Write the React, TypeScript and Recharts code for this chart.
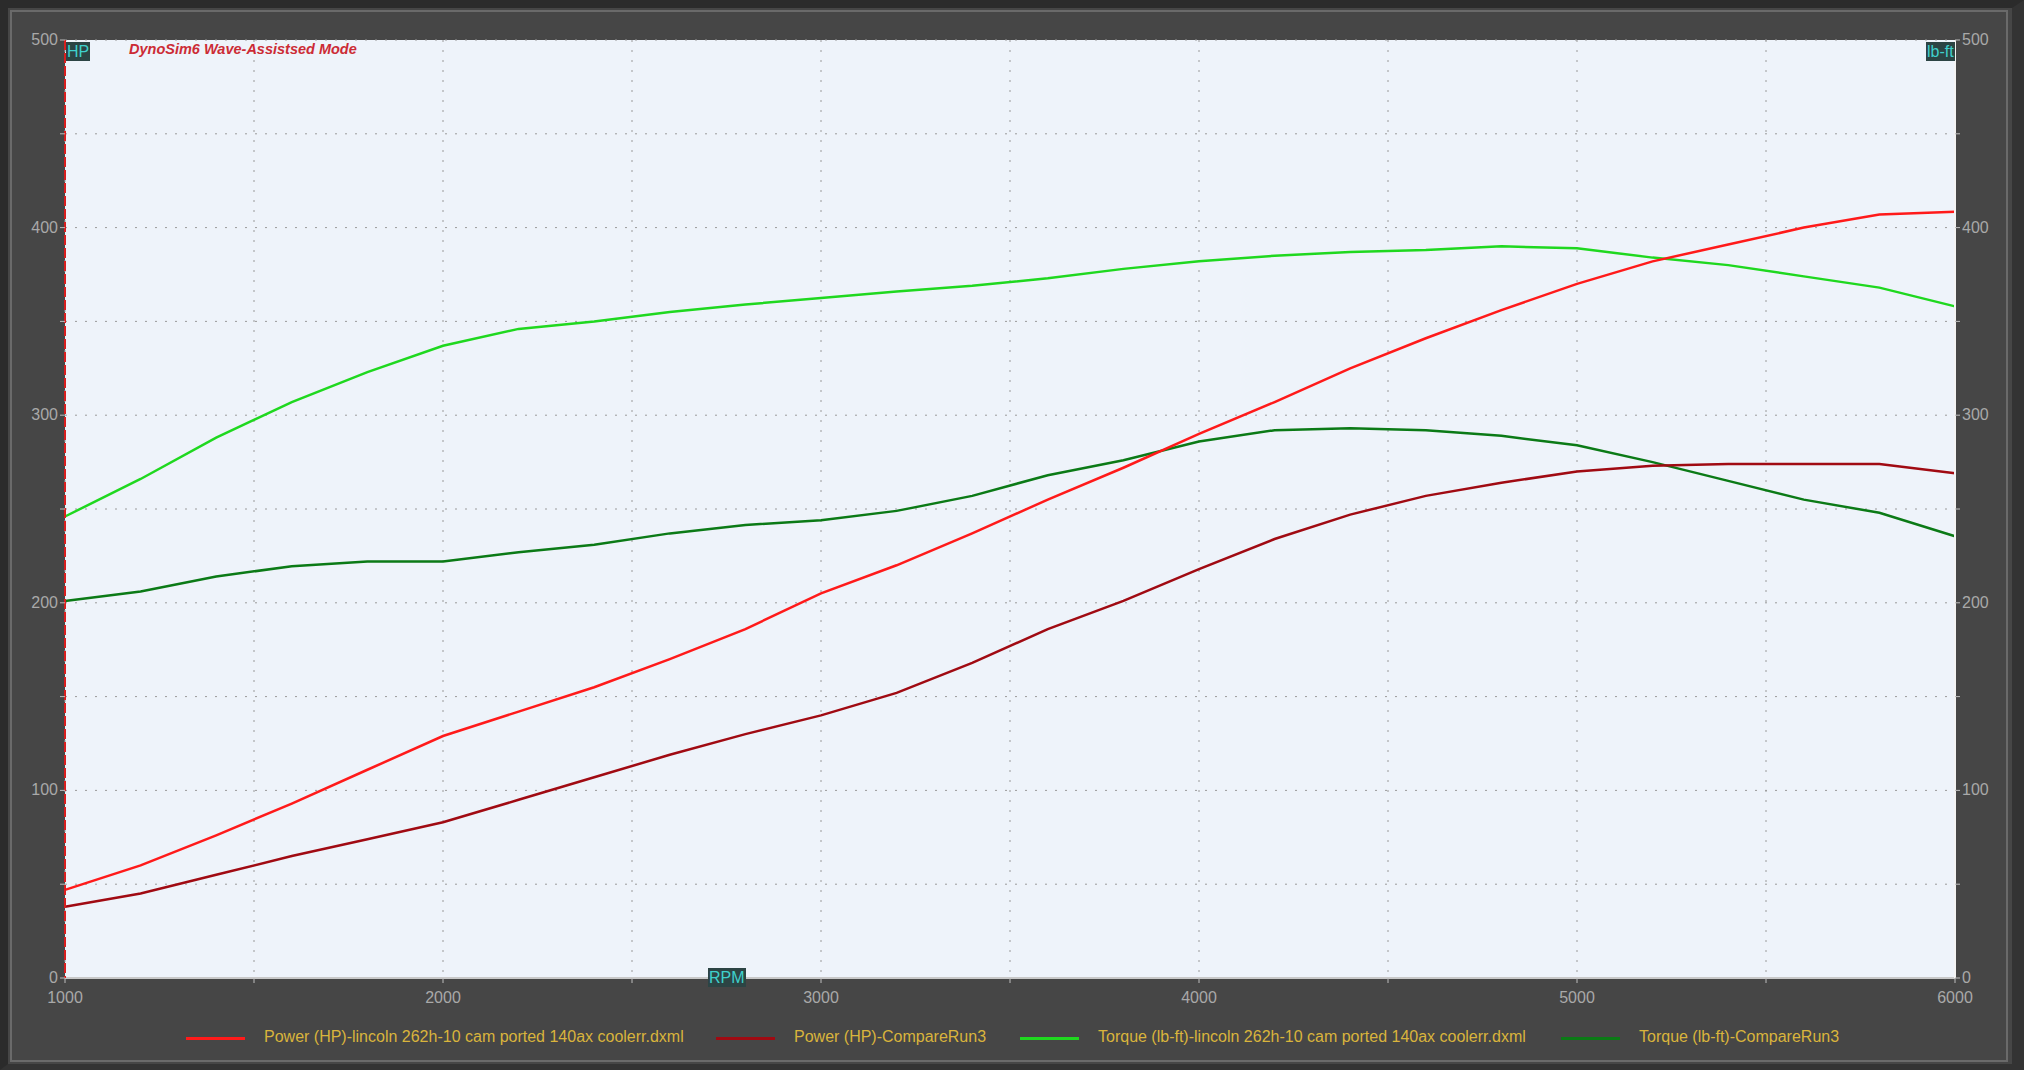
import { LineChart, Line, XAxis, YAxis, CartesianGrid } from 'recharts';

const rpm = [
  1000, 1200, 1400, 1600, 1800, 2000, 2200, 2400, 2600, 2800, 3000, 3200, 3400,
  3600, 3800, 4000, 4200, 4400, 4600, 4800, 5000, 5200, 5400, 5600, 5800, 6000,
];

const powerLincoln = [
  47, 60, 76, 93, 111, 129, 142, 155, 170, 186, 205, 220, 237,
  255, 272, 290, 307, 325, 341, 356, 370, 382, 391, 400, 407, 408.5,
];

const powerCompare = [
  38, 45, 55, 65, 74, 83, 95, 107, 119, 130, 140, 152, 168,
  186, 201, 218, 234, 247, 257, 264, 270, 273, 274, 274, 274, 269,
];

const torqueLincoln = [
  246, 266, 288, 307, 323, 337, 346, 350, 355, 359, 362.5, 366, 369,
  373, 378, 382, 385, 387, 388, 390, 389, 384, 380, 374, 368, 358,
];

const torqueCompare = [
  201, 206, 214, 219.5, 222, 222, 227, 231, 237, 241.5, 244, 249, 257,
  268, 276, 286, 292, 293, 292, 289, 284, 275, 265, 255, 248, 235.5,
];

const rpmTicks = [1000, 1500, 2000, 2500, 3000, 3500, 4000, 4500, 5000, 5500, 6000];
const valueTicks = [0, 50, 100, 150, 200, 250, 300, 350, 400, 450, 500];

const legendItems = [
  { name: 'Power (HP)-lincoln 262h-10 cam ported 140ax coolerr.dxml', color: '#ff1a1a' },
  { name: 'Power (HP)-CompareRun3', color: '#a00a12' },
  { name: 'Torque (lb-ft)-lincoln 262h-10 cam ported 140ax coolerr.dxml', color: '#1fd81f' },
  { name: 'Torque (lb-ft)-CompareRun3', color: '#0b7a16' },
];

const data = rpm.map((r, i) => ({
  rpm: r,
  p1: powerLincoln[i],
  p2: powerCompare[i],
  t1: torqueLincoln[i],
  t2: torqueCompare[i],
}));

const FONT = "'Liberation Sans Narrow', 'Arial Narrow', 'Liberation Sans', sans-serif";
const TICK_COLOR = '#a9a9a9';

const LeftTick = ({ x, y, payload }: any) =>
  payload.value % 100 === 0 ? (
    <text x={x} y={y} dy={5} textAnchor="end" fill={TICK_COLOR} fontSize={16} fontFamily={FONT}>
      {payload.value}
    </text>
  ) : (
    <g />
  );

const RightTick = ({ x, y, payload }: any) =>
  payload.value % 100 === 0 ? (
    <text x={x} y={y} dy={5} textAnchor="start" fill={TICK_COLOR} fontSize={16} fontFamily={FONT}>
      {payload.value}
    </text>
  ) : (
    <g />
  );

const BottomTick = ({ x, y, payload }: any) =>
  payload.value % 1000 === 0 ? (
    <text x={x} y={y} dy={18} textAnchor="middle" fill={TICK_COLOR} fontSize={16} fontFamily={FONT}>
      {payload.value}
    </text>
  ) : (
    <g />
  );

const tag = (left: number, top: number, text: string) => (
  <div
    style={{
      position: 'absolute',
      left,
      top,
      background: '#2c4444',
      color: '#3fd0cc',
      fontFamily: FONT,
      fontSize: 16,
      lineHeight: '19px',
      padding: '0 1px',
    }}
  >
    {text}
  </div>
);

export default function App() {
  return (
    <div
      style={{
        position: 'absolute',
        left: 0,
        top: 0,
        width: 2024,
        height: 1070,
        background: '#464646',
        overflow: 'hidden',
      }}
    >
      {/* window frame */}
      <div style={{ position: 'absolute', left: 0, top: 0, width: 2024, height: 1070, boxSizing: 'border-box', borderTop: '8px solid #2b2b2b', borderLeft: '8px solid #2b2b2b', borderRight: '12px solid #333', borderBottom: '6px solid #333' }} />
      <div style={{ position: 'absolute', left: 10, top: 10, width: 1998, height: 1052, boxSizing: 'border-box', border: '2px solid #6a6a6a' }} />

      <div style={{ position: 'absolute', left: 0, top: 0 }}>
        <LineChart width={2024} height={1070} data={data} margin={{ top: 40, right: 0, bottom: 62, left: 0 }}>
          <CartesianGrid
            yAxisId="left"
            fill="#eef3fa"
            stroke="#9a9a9a"
            strokeDasharray="2 8"
            horizontalValues={valueTicks}
            verticalValues={rpmTicks}
          />
          <XAxis
            dataKey="rpm"
            type="number"
            domain={[1000, 6000]}
            ticks={rpmTicks}
            interval={0}
            height={30}
            tick={<BottomTick />}
            tickSize={5}
            tickLine={{ stroke: '#bdbdbd' }}
            axisLine={{ stroke: '#c8c8c8', strokeWidth: 2 }}
          />
          <YAxis
            yAxisId="left"
            orientation="left"
            domain={[0, 500]}
            ticks={valueTicks}
            interval={0}
            width={65}
            tick={<LeftTick />}
            tickSize={5}
            tickMargin={2}
            tickLine={{ stroke: '#bdbdbd' }}
            axisLine={{ stroke: '#d81e1e', strokeWidth: 2, strokeDasharray: '10 3' }}
          />
          <YAxis
            yAxisId="right"
            orientation="right"
            domain={[0, 500]}
            ticks={valueTicks}
            interval={0}
            width={69}
            tick={<RightTick />}
            tickSize={5}
            tickMargin={2}
            tickLine={{ stroke: '#bdbdbd' }}
            axisLine={{ stroke: '#f4f4f4', strokeWidth: 2 }}
          />
          <Line yAxisId="right" type="linear" dataKey="t2" stroke="#0b7a16" strokeWidth={2.5} dot={false} isAnimationActive={false} />
          <Line yAxisId="right" type="linear" dataKey="t1" stroke="#1fd81f" strokeWidth={2.5} dot={false} isAnimationActive={false} />
          <Line yAxisId="left" type="linear" dataKey="p2" stroke="#a00a12" strokeWidth={2.5} dot={false} isAnimationActive={false} />
          <Line yAxisId="left" type="linear" dataKey="p1" stroke="#ff1a1a" strokeWidth={2.5} dot={false} isAnimationActive={false} />
        </LineChart>
      </div>

      {tag(66, 42, 'HP')}
      {tag(1926, 42, 'lb-ft')}
      {tag(708, 968, 'RPM')}

      <div
        style={{
          position: 'absolute',
          left: 129,
          top: 41,
          color: '#cc2b35',
          fontFamily: "'Liberation Sans', Arial, sans-serif",
          fontSize: 14.5,
          fontWeight: 'bold',
          fontStyle: 'italic',
        }}
      >
        DynoSim6 Wave-Assistsed Mode
      </div>

      {/* legend */}
      <div style={{ position: 'absolute', left: 0, top: 1028, width: 2024, height: 22 }}>
        {legendItems.map((item, i) => {
          const lineX = [186, 716, 1020, 1561][i];
          return (
            <div key={item.name}>
              <div style={{ position: 'absolute', left: lineX, top: 9, width: 59, height: 3, background: item.color }} />
              <div
                style={{
                  position: 'absolute',
                  left: lineX + 78,
                  top: 0,
                  color: '#d9b43c',
                  fontFamily: FONT,
                  fontSize: 16,
                  whiteSpace: 'nowrap',
                }}
              >
                {item.name}
              </div>
            </div>
          );
        })}
      </div>
    </div>
  );
}
